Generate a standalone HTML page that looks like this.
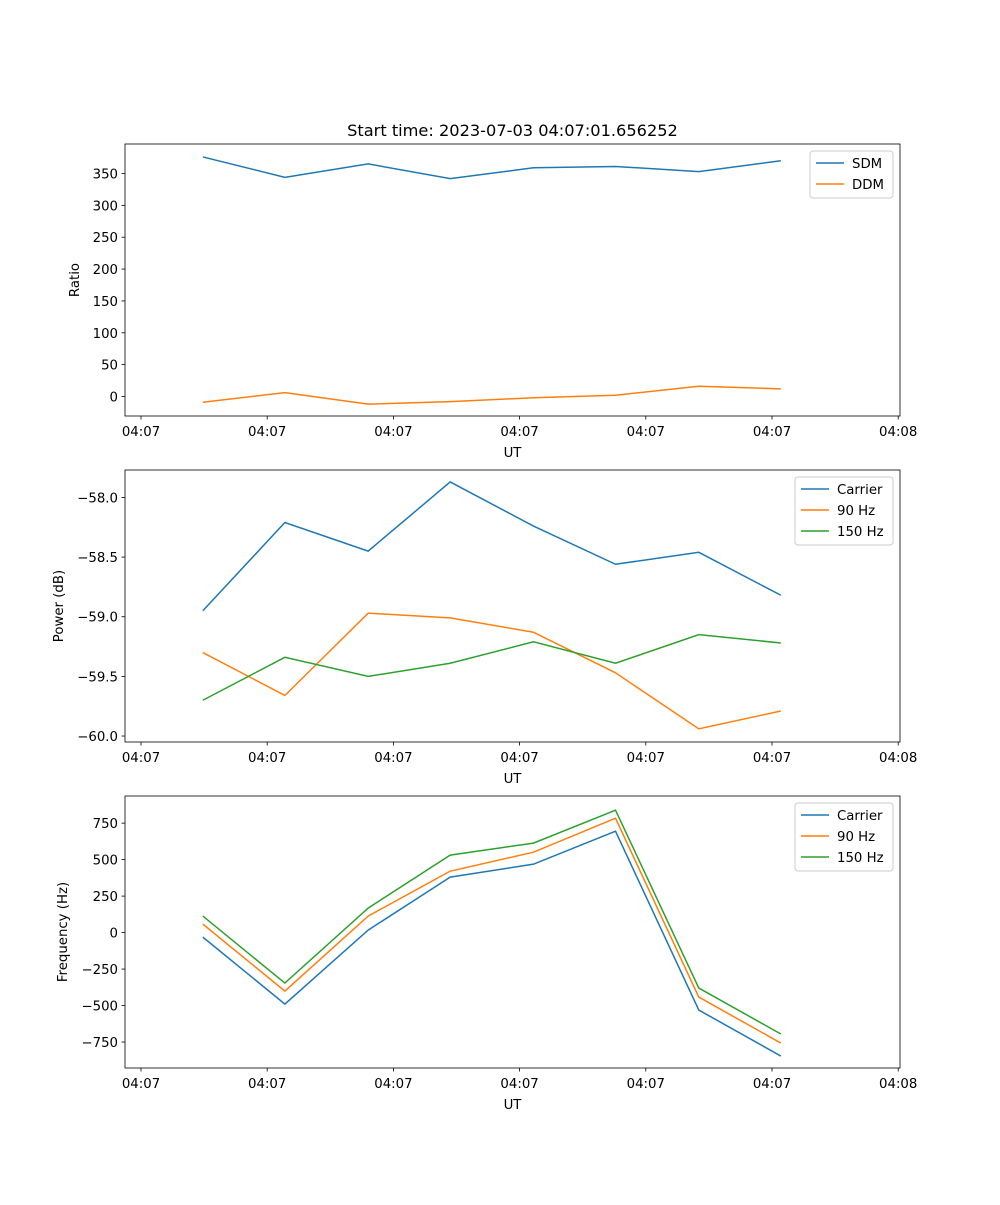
<!DOCTYPE html>
<html><head><meta charset="utf-8"><style>
body{margin:0;background:#fff}
svg text{font-family:"DejaVu Sans","Liberation Sans",sans-serif;fill:#000}
</style></head><body>
<svg id="fig" width="1000" height="1200" xmlns="http://www.w3.org/2000/svg">
<rect width="1000" height="1200" fill="#fff"/>
<text x="512.5" y="136" font-size="16.2" text-anchor="middle">Start time: 2023-07-03 04:07:01.656252</text>
</svg>
<script>
const xVals=[0.49,1.14,1.80,2.45,3.11,3.76,4.42,5.07];
const xTickVals=[0,1,2,3,4,5,6];
const xTickLabels=["04:07","04:07","04:07","04:07","04:07","04:07","04:08"];
const sdm=[376,344,365,342,359,361,353,370];
const ddm=[-9,6,-12,-8,-2,2,16,12];
const pCarrier=[-58.95,-58.21,-58.45,-57.87,-58.24,-58.56,-58.46,-58.82];
const p90=[-59.30,-59.66,-58.97,-59.01,-59.13,-59.47,-59.94,-59.79];
const p150=[-59.70,-59.34,-59.50,-59.39,-59.21,-59.39,-59.15,-59.22];
const fCarrier=[-31,-490,17,380,469,695,-531,-846];
const f90=[58,-401,113,421,551,784,-442,-757];
const f150=[113,-346,168,531,613,839,-380,-695];
const ticks1=[0,50,100,150,200,250,300,350];
const ticks2=[-60,-59.5,-59,-58.5,-58];
const ticks3=[-750,-500,-250,0,250,500,750];
const C=['#1f77b4','#ff7f0e','#2ca02c'];
const svg=document.getElementById('fig');const NS='http://www.w3.org/2000/svg';
function mk(t,a,p){const e=document.createElementNS(NS,t);for(const k in a)e.setAttribute(k,a[k]);(p||svg).appendChild(e);return e;}
const L=125,R=900,W=R-L,FS=13.3;
const xs=v=>141+v*126.2;
function panel(name,top,yMin,yMax,yTicks,fmt,ylabel,series,names,legW,lx){
 const B=top+272;const ys=v=>B-(v-yMin)/(yMax-yMin)*272;
 const g=mk('g',{});
 series.forEach((s,i)=>{const pl=mk('polyline',{points:s.map((v,j)=>xs(xVals[j])+','+ys(v)).join(' '),fill:'none',stroke:C[i],'stroke-width':1.5},g);
  });
 const fr=mk('rect',{x:L,y:top,width:W,height:272,fill:'none',stroke:'#000','stroke-width':0.8},g);
 
 xTickVals.forEach((v,i)=>{const x=xs(v);mk('line',{x1:x,x2:x,y1:B,y2:B+3.5,stroke:'#000','stroke-width':0.8},g);
  const t=mk('text',{x:x,y:B+20,'font-size':FS,'text-anchor':'middle'},g);t.textContent=xTickLabels[i];
  });
 yTicks.forEach(v=>{const y=ys(v);mk('line',{x1:L-3.5,x2:L,y1:y,y2:y,stroke:'#000','stroke-width':0.8},g);
  const t=mk('text',{x:L-7,y:y+5,'font-size':FS,'text-anchor':'end'},g);t.textContent=fmt(v);
  });
 const xl=mk('text',{x:512.5,y:B+41,'font-size':FS,'text-anchor':'middle'},g);xl.textContent='UT';
 
 const yl=mk('text',{x:lx,y:top+136,'font-size':FS,'text-anchor':'middle',transform:`rotate(-90 ${lx} ${top+136})`},g);yl.textContent=ylabel;
 
 const lg=mk('g',{},g);
 const h=names.length*21+5;const lx0=893-legW;
 mk('rect',{x:lx0,y:top+7,width:legW,height:h,rx:3,fill:'#fff',stroke:'#ccc','stroke-width':1},lg);
 names.forEach((n,i)=>{const y=top+19+i*21;mk('line',{x1:lx0+6,x2:lx0+34,y1:y,y2:y,stroke:C[i],'stroke-width':1.5},lg);
  const t=mk('text',{x:lx0+42,y:y+5,'font-size':FS},lg);t.textContent=n;
  });
}
panel('ratio-panel',144,-30.6,396.3,ticks1,v=>String(v),'Ratio',[sdm,ddm],['SDM','DDM'],83,79);
panel('power-panel',470,-60.05,-57.77,ticks2,v=>v.toFixed(1).replace('-','\u2212'),'Power (dB)',[pCarrier,p90,p150],['Carrier','90 Hz','150 Hz'],98,63);
panel('frequency-panel',796,-928,936,ticks3,v=>String(v).replace('-','\u2212'),'Frequency (Hz)',[fCarrier,f90,f150],['Carrier','90 Hz','150 Hz'],98,67);
</script>
</body></html>
